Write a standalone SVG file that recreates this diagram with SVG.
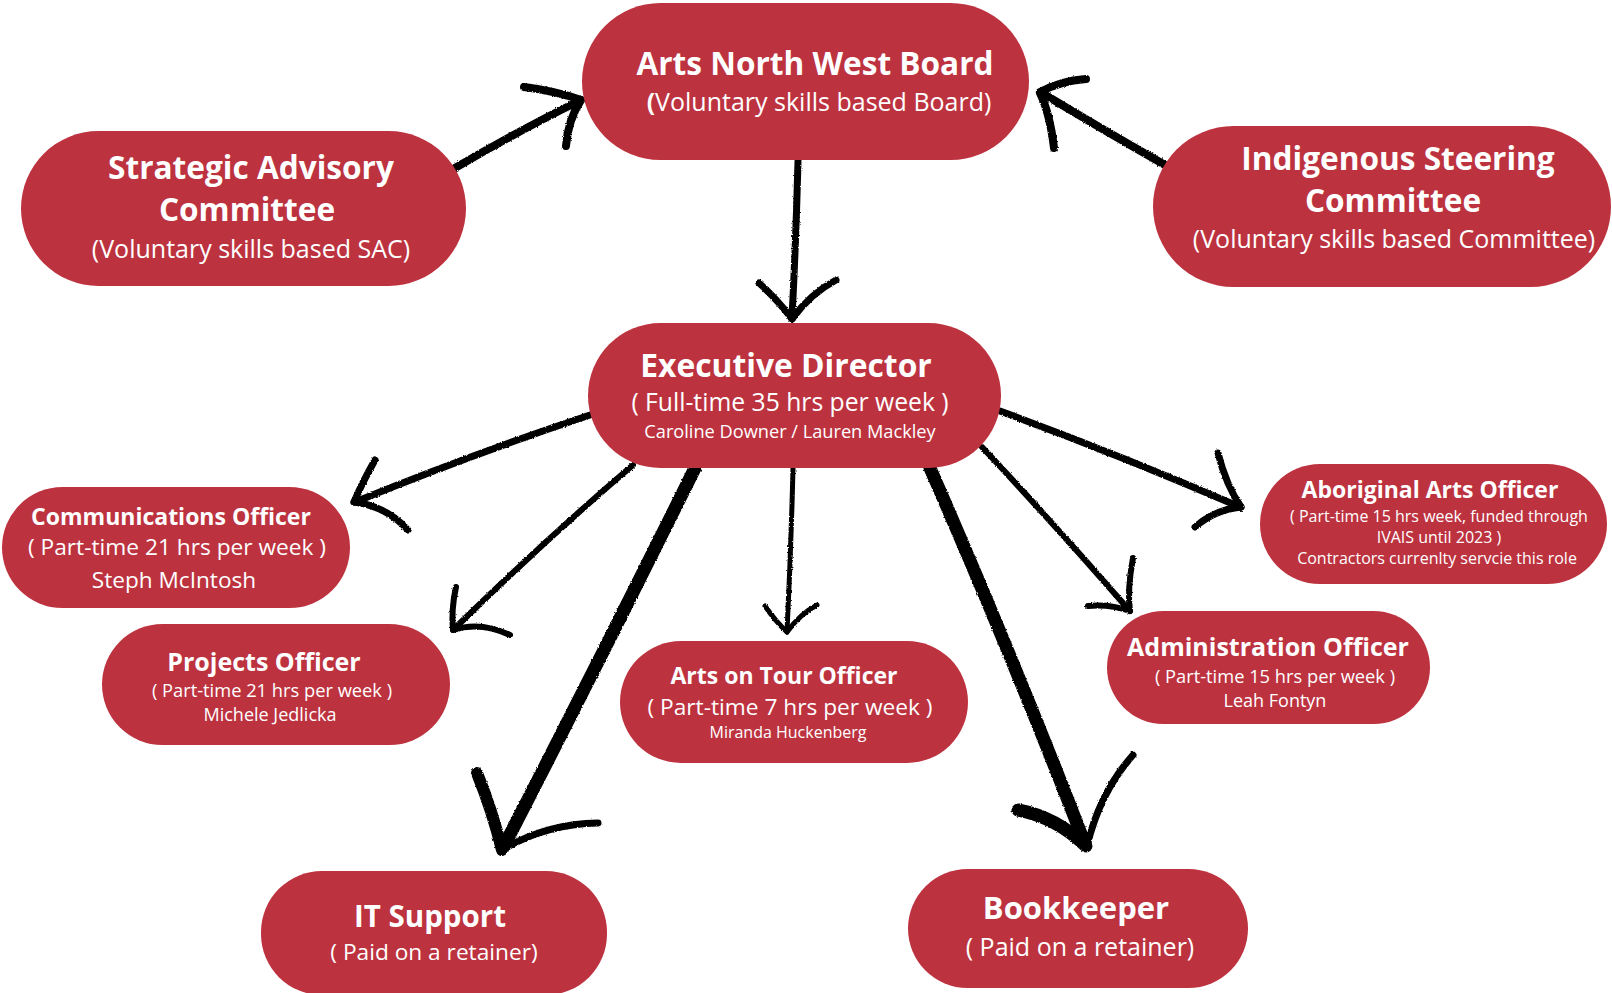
<svg xmlns="http://www.w3.org/2000/svg" width="1612" height="993" viewBox="0 0 1612 993">
  <defs>
    <style>
      .pill { fill: #BD323F; }
      text { font-family: "Open Sans", "Liberation Sans", sans-serif; fill: #FFFFFF; text-anchor: middle; }
      .h { font-weight: 700; }
      .r { font-weight: 400; }
      .conn path { fill: none; stroke: #000000; stroke-linecap: round; stroke-linejoin: round; }
    </style>
    <!-- slight ragged edge for the brush-drawn connectors -->
    <filter id="brush" x="-5%" y="-5%" width="110%" height="110%">
      <feTurbulence type="fractalNoise" baseFrequency="0.8" numOctaves="2" seed="3" result="noise"/>
      <feDisplacementMap in="SourceGraphic" in2="noise" scale="2.5" xChannelSelector="R" yChannelSelector="G"/>
    </filter>
  </defs>

  <rect width="1612" height="993" fill="#FFFFFF"/>

  <!-- connectors -->
  <g id="connectors" class="conn" filter="url(#brush)">
    <!-- Strategic Advisory Committee -> Board -->
    <g id="c-sac-board" stroke-width="8">
      <path d="M455,168 Q520,130 579,101"/>
      <path d="M524,87 Q556,91 581,100"/>
      <path d="M566,146 Q568,120 581,100"/>
    </g>
    <!-- Indigenous Steering Committee -> Board -->
    <g id="c-isc-board" stroke-width="8">
      <path d="M1165,165 Q1100,128 1042,93"/>
      <path d="M1086,79 Q1060,81 1040,92"/>
      <path d="M1054,148 Q1050,114 1040,93"/>
    </g>
    <!-- Board -> Executive Director -->
    <g id="c-board-ed" stroke-width="7">
      <path d="M798,161 Q796,240 792,318"/>
      <path d="M759,283 Q778,300 792,319"/>
      <path d="M836,280 Q810,294 792,319"/>
    </g>
    <!-- Executive Director -> Communications Officer -->
    <g id="c-ed-comms" stroke-width="7">
      <path d="M590,415 Q470,455 355,502"/>
      <path d="M375,460 Q362,483 354,502"/>
      <path d="M408,530 Q386,506 354,502"/>
    </g>
    <!-- Executive Director -> Projects Officer -->
    <g id="c-ed-projects" stroke-width="6">
      <path d="M633,465 Q545,540 454,629"/>
      <path d="M456,587 Q451,610 453,630"/>
      <path d="M510,635 Q480,621 453,630"/>
    </g>
    <!-- Executive Director -> IT Support -->
    <g id="c-ed-it">
      <path d="M695,468 Q600,660 503,848" stroke-width="13"/>
      <path d="M477,773 Q492,810 502,850" stroke-width="12"/>
      <path d="M598,823 Q545,824 502,850" stroke-width="7"/>
    </g>
    <!-- Executive Director -> Arts on Tour Officer -->
    <g id="c-ed-tour" stroke-width="5">
      <path d="M793,468 Q791,550 787,632"/>
      <path d="M765,606 Q776,622 787,632"/>
      <path d="M817,605 Q800,614 787,632"/>
    </g>
    <!-- Executive Director -> Bookkeeper -->
    <g id="c-ed-book">
      <path d="M930,468 Q1010,650 1085,844" stroke-width="13"/>
      <path d="M1018,810 Q1056,817 1086,846" stroke-width="13"/>
      <path d="M1133,755 Q1100,792 1087,846" stroke-width="7"/>
    </g>
    <!-- Executive Director -> Administration Officer -->
    <g id="c-ed-admin" stroke-width="6">
      <path d="M982,447 Q1055,525 1130,611"/>
      <path d="M1133,558 Q1127,590 1130,611"/>
      <path d="M1088,606 Q1110,604 1130,611"/>
    </g>
    <!-- Executive Director -> Aboriginal Arts Officer -->
    <g id="c-ed-aboriginal" stroke-width="7">
      <path d="M1000,411 Q1120,455 1240,507"/>
      <path d="M1218,453 Q1226,485 1241,507"/>
      <path d="M1195,527 Q1214,510 1241,507"/>
    </g>
  </g>

  <!-- nodes -->
  <g id="board">
    <rect class="pill" x="582" y="3" width="447" height="157" rx="78.5"/>
    <text class="h" x="815" y="75" font-size="31.6">Arts North West Board</text>
    <text class="r" x="819" y="111" font-size="25"><tspan font-weight="700">(</tspan>Voluntary skills based Board)</text>
  </g>

  <g id="strategic-advisory">
    <rect class="pill" x="21" y="131" width="445" height="155" rx="77.5"/>
    <text class="h" x="251" y="179" font-size="31.6">Strategic Advisory</text>
    <text class="h" x="247" y="221" font-size="31.6">Committee</text>
    <text class="r" x="251" y="258" font-size="25">(Voluntary skills based SAC)</text>
  </g>

  <g id="indigenous-steering">
    <rect class="pill" x="1153" y="126" width="458" height="161" rx="80.5"/>
    <text class="h" x="1398" y="170" font-size="31.6">Indigenous Steering</text>
    <text class="h" x="1393" y="212" font-size="31.6">Committee</text>
    <text class="r" x="1394" y="248" font-size="25">(Voluntary skills based Committee)</text>
  </g>

  <g id="executive-director">
    <rect class="pill" x="588" y="323" width="413" height="145" rx="72.5"/>
    <text class="h" x="786" y="377" font-size="31.8">Executive Director</text>
    <text class="r" x="790" y="411" font-size="24.7">( Full-time 35 hrs per week )</text>
    <text class="r" x="790" y="438" font-size="18.2">Caroline Downer / Lauren Mackley</text>
  </g>

  <g id="communications-officer">
    <rect class="pill" x="2" y="487" width="348" height="121" rx="60.5"/>
    <text class="h" x="171" y="525" font-size="23">Communications Officer</text>
    <text class="r" x="177" y="555" font-size="22.7">( Part-time 21 hrs per week )</text>
    <text class="r" x="174" y="588" font-size="22.6">Steph McIntosh</text>
  </g>

  <g id="projects-officer">
    <rect class="pill" x="102" y="624" width="348" height="121" rx="60.5"/>
    <text class="h" x="264" y="671" font-size="25">Projects Officer</text>
    <text class="r" x="272" y="697" font-size="18.3">( Part-time 21 hrs per week )</text>
    <text class="r" x="270" y="721" font-size="18">Michele Jedlicka</text>
  </g>

  <g id="arts-on-tour-officer">
    <rect class="pill" x="620" y="641" width="348" height="122" rx="61"/>
    <text class="h" x="784" y="684" font-size="23">Arts on Tour Officer</text>
    <text class="r" x="790" y="715" font-size="22.7">( Part-time 7 hrs per week )</text>
    <text class="r" x="788" y="738" font-size="16">Miranda Huckenberg</text>
  </g>

  <g id="aboriginal-arts-officer">
    <rect class="pill" x="1260" y="464" width="347" height="120" rx="60"/>
    <text class="h" x="1430" y="498" font-size="23">Aboriginal Arts Officer</text>
    <text class="r" x="1439" y="522" font-size="16">( Part-time 15 hrs week, funded through</text>
    <text class="r" x="1439" y="543" font-size="16">IVAIS until 2023 )</text>
    <text class="r" x="1437" y="564" font-size="16">Contractors currenlty servcie this role</text>
  </g>

  <g id="administration-officer">
    <rect class="pill" x="1107" y="611" width="323" height="113" rx="56.5"/>
    <text class="h" x="1268" y="656" font-size="25">Administration Officer</text>
    <text class="r" x="1275" y="683" font-size="18.3">( Part-time 15 hrs per week )</text>
    <text class="r" x="1275" y="707" font-size="18">Leah Fontyn</text>
  </g>

  <g id="it-support">
    <rect class="pill" x="261" y="871" width="346" height="124" rx="61"/>
    <text class="h" x="430" y="927" font-size="29.5">IT Support</text>
    <text class="r" x="434" y="960" font-size="22.7">( Paid on a retainer)</text>
  </g>

  <g id="bookkeeper">
    <rect class="pill" x="908" y="869" width="340" height="119" rx="59.5"/>
    <text class="h" x="1076" y="919" font-size="31">Bookkeeper</text>
    <text class="r" x="1080" y="956" font-size="25">( Paid on a retainer)</text>
  </g>
</svg>
